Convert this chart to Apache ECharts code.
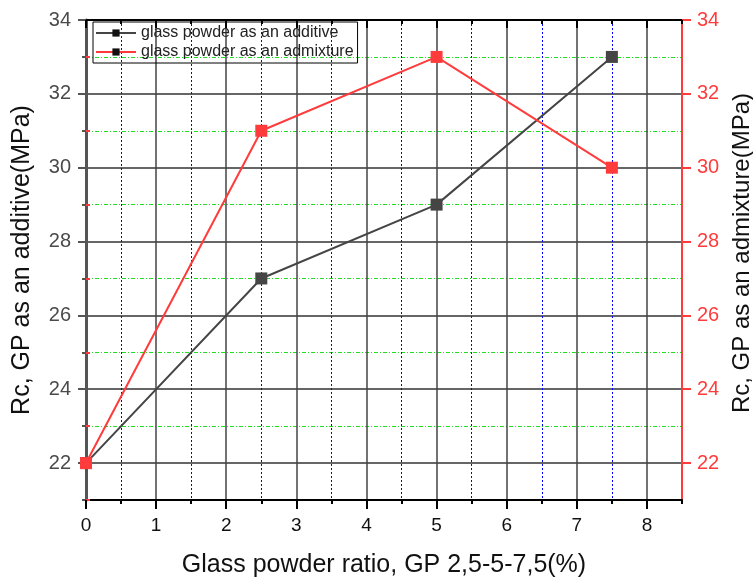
<!DOCTYPE html>
<html><head><meta charset="utf-8">
<script src="https://cdn.jsdelivr.net/npm/echarts@6/dist/echarts.min.js"></script>
<style>html,body{margin:0;padding:0;background:#fff}#c{width:753px;height:577px}</style>
</head><body><div id="c"></div>
<script>
const xValues = [0, 2.5, 5, 7.5];
const additive = [22, 27, 29, 33];
const admixture = [22, 31, 33, 30];
const seriesNames = ['glass powder as an additive', 'glass powder as an admixture'];
const xMajorTicks = [0, 1, 2, 3, 4, 5, 6, 7, 8];
const xMinorTicks = [0.5, 1.5, 2.5, 3.5, 4.5, 5.5, 6.5, 7.5, 8.5];
const yMajorTicks = [22, 24, 26, 28, 30, 32, 34];
const yMinorTicks = [21, 23, 25, 27, 29, 31, 33];
const xName = 'Glass powder ratio, GP 2,5-5-7,5(%)';
const yLeftName = 'Rc, GP as an additive(MPa)';
const yRightName = 'Rc, GP as an admixture(MPa)';

const FONT = '"Liberation Sans", Arial, sans-serif';
const RED = '#ff3b3b';
const GRAY = '#454545';

const chart = echarts.init(document.getElementById('c'));

function tickOnlyX(pos, inside, values, len, split) {
  return {
    type: 'value', position: pos, min: 0, max: 8.5, interval: 0.5,
    axisLine: { show: false },
    axisTick: { show: true, inside: inside, length: len, customValues: values, lineStyle: { color: '#000', width: 2 } },
    axisLabel: { show: false },
    splitLine: split ? { show: true, lineStyle: split } : { show: false }
  };
}
function tickOnlyY(pos, color, values, len, split) {
  return {
    type: 'value', position: pos, min: 21, max: 34, interval: 1,
    axisLine: { show: false },
    axisTick: { show: true, inside: false, length: len, customValues: values, lineStyle: { color: color, width: 2 } },
    axisLabel: { show: false },
    splitLine: split ? { show: true, lineStyle: split } : { show: false }
  };
}

chart.setOption({
  animation: false,
  textStyle: { fontFamily: FONT },
  grid: { left: 86, right: 71, top: 20, bottom: 77, containLabel: false, outerBoundsMode: 'none' },
  legend: {
    left: 93, top: 22, orient: 'vertical', itemGap: 3,
    itemWidth: 40, itemHeight: 9,
    borderColor: '#000', borderWidth: 1, padding: [3, 4, 3, 2],
    textStyle: { fontFamily: FONT, fontSize: 16, color: '#222' },
    data: seriesNames.map(n => ({ name: n, itemStyle: { color: '#111' } }))
  },
  xAxis: [
    {
      type: 'value', position: 'bottom', min: 0, max: 8.5, interval: 0.5,
      name: xName, nameLocation: 'middle', nameGap: 53,
      nameTextStyle: { fontFamily: FONT, fontSize: 25, color: '#111' },
      axisLine: { show: true, onZero: false, lineStyle: { color: '#000', width: 2 } },
      axisTick: { show: true, inside: false, length: 9, customValues: xMajorTicks, lineStyle: { color: '#000', width: 2 } },
      axisLabel: { customValues: xMajorTicks, fontSize: 19, color: '#111', margin: 16, fontFamily: FONT },
      splitLine: { show: true, lineStyle: { color: '#444', width: 1.5 } }
    },
    {
      type: 'value', position: 'top', min: 0, max: 8.5, interval: 0.5,
      axisLine: { show: true, onZero: false, lineStyle: { color: '#000', width: 2 } },
      axisTick: { show: true, inside: true, length: 8, customValues: xMajorTicks, lineStyle: { color: '#000', width: 2 } },
      axisLabel: { show: false },
      splitLine: { show: false }
    },
    tickOnlyX('bottom', false, xMinorTicks, 4, { color: '#0000ff', width: 1, type: [2, 2] }),
    tickOnlyX('top', true, xMinorTicks, 4, null)
  ],
  yAxis: [
    {
      type: 'value', position: 'left', min: 21, max: 34, interval: 1,
      name: yLeftName, nameLocation: 'middle', nameGap: 51, nameRotate: 90,
      nameTextStyle: { fontFamily: FONT, fontSize: 25, color: '#111' },
      axisLine: { show: true, onZero: false, lineStyle: { color: '#555', width: 3 } },
      axisTick: { show: true, inside: false, length: 8, customValues: yMajorTicks, lineStyle: { color: '#555', width: 2 } },
      axisLabel: { customValues: yMajorTicks, fontSize: 20, color: '#4a4a4a', margin: 15, fontFamily: FONT },
      splitLine: { show: true, lineStyle: { color: '#333', width: 1.5 } }
    },
    {
      type: 'value', position: 'right', min: 21, max: 34, interval: 1,
      name: yRightName, nameLocation: 'middle', nameGap: 48, nameRotate: 90,
      nameTextStyle: { fontFamily: FONT, fontSize: 24, color: '#111', padding: [0, 0, 0, 14] },
      axisLine: { show: true, onZero: false, lineStyle: { color: RED, width: 2 } },
      axisTick: { show: true, inside: false, length: 9, customValues: yMajorTicks, lineStyle: { color: RED, width: 2 } },
      axisLabel: { customValues: yMajorTicks, fontSize: 20, color: RED, margin: 15, fontFamily: FONT },
      splitLine: { show: false }
    },
    tickOnlyY('left', '#555', yMinorTicks, 4, { color: '#22dd22', width: 1, type: [4, 2, 1, 2] }),
    tickOnlyY('right', RED, yMinorTicks, 4, null)
  ],
  series: [
    {
      name: seriesNames[0], type: 'line', xAxisIndex: 0, yAxisIndex: 0,
      data: xValues.map((x, i) => [x, additive[i]]),
      symbol: 'rect', symbolSize: 12,
      lineStyle: { color: GRAY, width: 2 }, itemStyle: { color: GRAY }, z: 3
    },
    {
      name: seriesNames[1], type: 'line', xAxisIndex: 0, yAxisIndex: 1,
      data: xValues.map((x, i) => [x, admixture[i]]),
      symbol: 'rect', symbolSize: 12,
      lineStyle: { color: RED, width: 2 }, itemStyle: { color: RED }, z: 4
    }
  ]
});
</script></body></html>
